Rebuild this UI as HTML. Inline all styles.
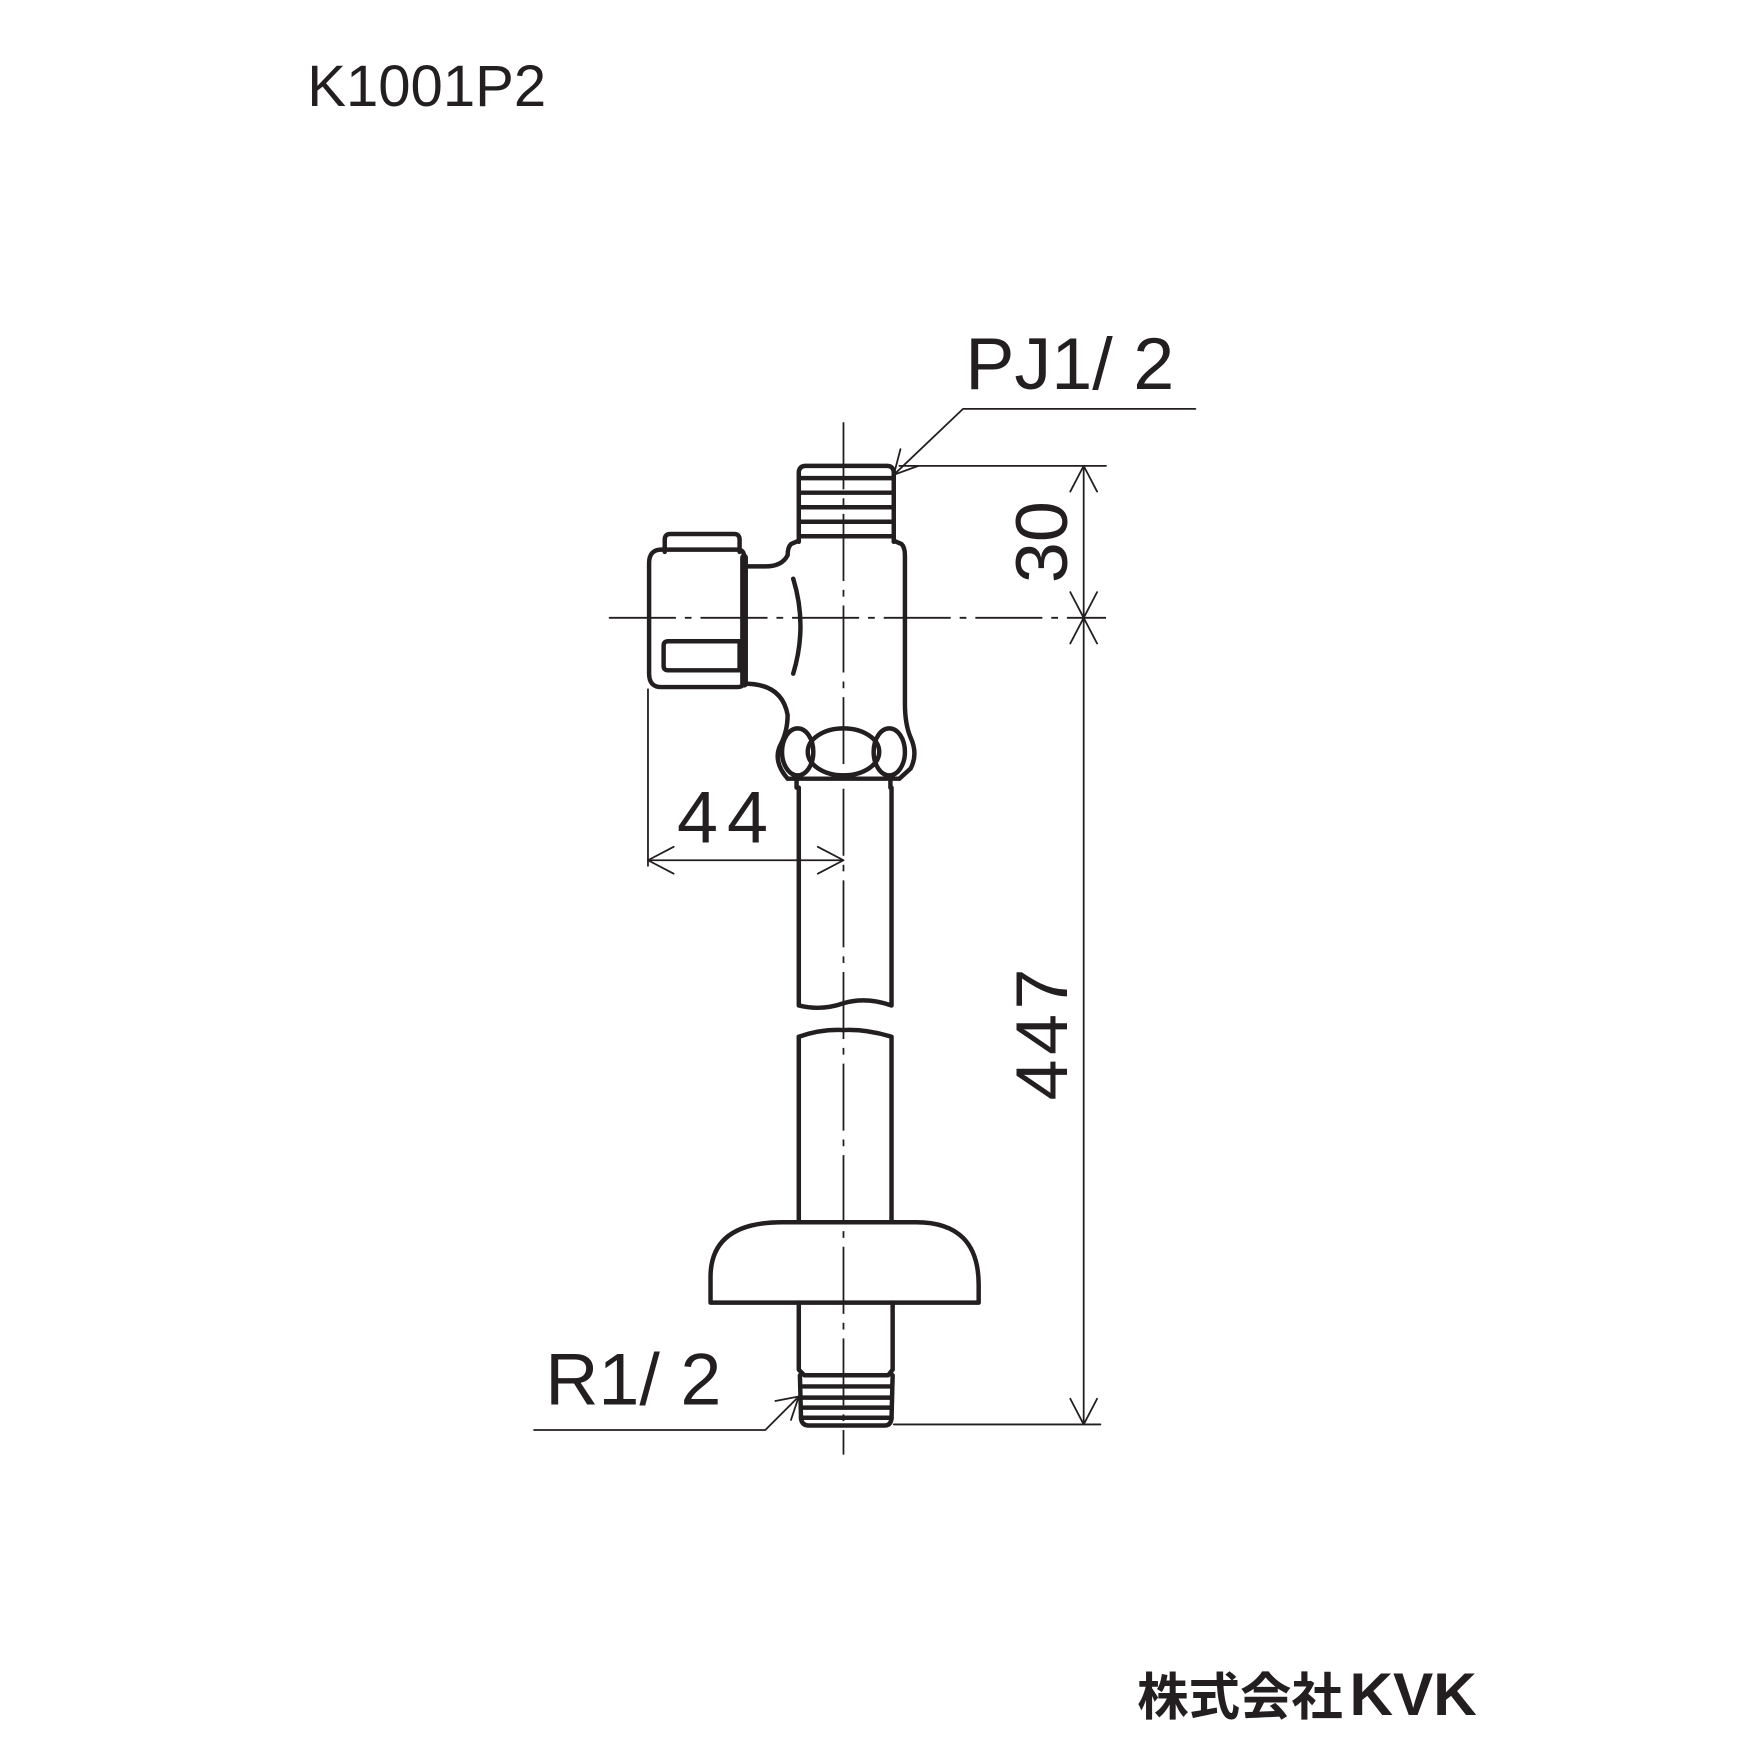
<!DOCTYPE html>
<html><head><meta charset="utf-8"><style>
html,body{margin:0;padding:0;background:#fff;}
svg{display:block;}
text{font-family:"Liberation Sans","Noto Sans CJK JP",sans-serif;fill:#231f20;}
</style></head><body>
<svg width="1754" height="1754" viewBox="0 0 1570 1570" xmlns="http://www.w3.org/2000/svg">
<g stroke="#231f20" fill="none" stroke-linecap="round" stroke-linejoin="round">
<!-- center lines -->
<line x1="755" y1="378" x2="755" y2="1302" stroke-width="1.6" stroke-dasharray="60,8,6,8" stroke-linecap="butt"/>
<line x1="545" y1="553" x2="990" y2="553" stroke-width="1.6" stroke-dasharray="60,8,6,8" stroke-linecap="butt"/>
<g stroke-width="4">
<!-- top thread -->
<path d="M715,485 L715,422 Q716,417 721,417 L794,417 Q799,417 800,422 L800,485"/>
<line x1="716" y1="428" x2="799" y2="428"/>
<line x1="716" y1="441" x2="799" y2="441"/>
<line x1="716" y1="454" x2="799" y2="454"/>
<line x1="716" y1="467" x2="799" y2="467"/>
<line x1="716" y1="480" x2="799" y2="480"/>
<!-- body -->
<path d="M715,484 L708,487 Q705,490 705,497 Q700,507 685,507 L667,507"/>
<path d="M800,484 L807,487 Q810,490 810,497 L810,630 Q810,648 815,660 Q822,675 815,688 L805,697"/>
<path d="M667,612 Q700,612 705,640 Q705,655 698,668 Q692,682 705,697"/>
<line x1="705" y1="697" x2="805" y2="697"/>
<line x1="713" y1="697" x2="713" y2="705"/><line x1="797" y1="697" x2="797" y2="705"/>
<ellipse cx="714" cy="673" rx="14" ry="21"/>
<ellipse cx="755" cy="673" rx="32" ry="21"/>
<ellipse cx="796" cy="673" rx="14" ry="21"/>
<path d="M710,518 Q723,560 710,603"/>
<!-- knob -->
<path d="M595,494 L595,483 Q595,478 600,478 L657,478 Q662,478 662,483 L662,494"/>
<path d="M592,492 L660,492 Q666,492 666,498 L666,609 Q666,615 660,615 L592,615 Q581,615 581,603 L581,504 Q581,492 592,492 Z"/>
<path d="M598,574 L662,574 L662,600 L598,600 Q594,600 594,596 L594,578 Q594,574 598,574 Z"/>
<line x1="666" y1="499" x2="666" y2="612" stroke-width="7"/>
<!-- upper pipe -->
<path d="M715,705 L715,900 Q735,905 755,898 Q775,892 798,900 L798,705"/>
<path d="M715,928 Q735,921 755,922 Q775,921 798,928 L798,1094"/>
<line x1="715" y1="928" x2="715" y2="1094"/>
<!-- escutcheon -->
<path d="M636,1166 L636,1143 Q636,1094 700,1094 L820,1094 Q876,1094 876,1150 L876,1166 Z"/>
<!-- lower pipe & thread -->
<path d="M715,1166 L715,1226 L720,1231 L795,1231 L799,1226 L799,1166"/>
<path d="M716,1231 L717,1270 Q718,1276 724,1276 L792,1276 Q797,1276 798,1270 L799,1231"/>
<line x1="717" y1="1241" x2="798" y2="1241"/>
<line x1="717" y1="1251" x2="798" y2="1251"/>
<line x1="717" y1="1260" x2="798" y2="1260"/>
<line x1="717" y1="1269" x2="798" y2="1269"/>
</g>
<g stroke-width="1.6">
<!-- right dims -->
<line x1="805" y1="417" x2="990" y2="417"/>
<line x1="800" y1="1275" x2="985" y2="1275"/>
<line x1="970" y1="417" x2="970" y2="1275"/>
<path d="M958,440 L970,417 L982,440 M958,530 L970,553 L982,530 M958,576 L970,553 L982,576 M958,1252 L970,1275 L982,1252"/>
<!-- 44 -->
<line x1="580" y1="617" x2="580" y2="775"/>
<line x1="580" y1="770" x2="755" y2="770"/>
<path d="M603,758 L580,770 L603,782 M732,758 L755,770 L732,782"/>
<!-- PJ leader -->
<path d="M1070,366 L862,366 L800,425"/>
<path d="M806,402 L800,425 L822,417"/>
<!-- R leader -->
<path d="M478,1280 L685,1280 L715,1250"/>
<path d="M694,1254 L715,1250 L708,1271"/>
</g>
</g>
<text x="275" y="95" font-size="52">K1001P2</text>
<text x="864" y="348" font-size="66">PJ1/ 2</text>
<text x="488" y="1257" font-size="66">R1/ 2</text>
<text x="606" y="754" font-size="66" letter-spacing="8">44</text>
<text transform="translate(955,522) rotate(-90)" font-size="66">30</text>
<text transform="translate(955,985) rotate(-90)" font-size="66" letter-spacing="4">447</text>
<text x="1018" y="1535" font-size="46" font-weight="bold">株式会社<tspan font-size="54" font-weight="900" dx="6">KVK</tspan></text>
</svg>
</body></html>
